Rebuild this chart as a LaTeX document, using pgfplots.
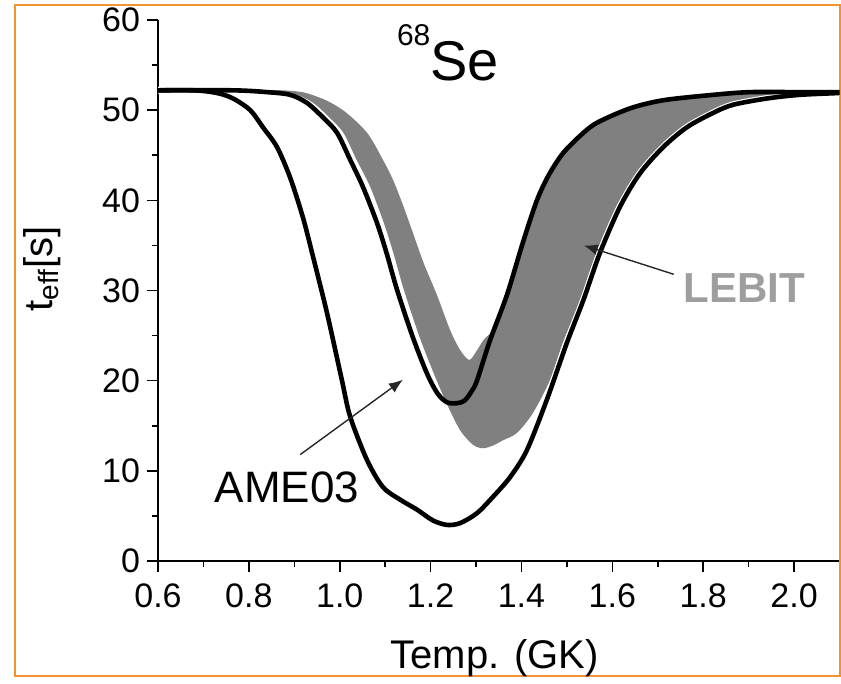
\documentclass[border=0pt]{standalone}
\usepackage{fontspec}
\setmainfont{Liberation Sans}
\usepackage{pgfplots}
\pgfplotsset{compat=1.18}
\usepgfplotslibrary{fillbetween}
\usetikzlibrary{arrows.meta}
\definecolor{frameorange}{RGB}{242,146,48}
\definecolor{bandgray}{RGB}{128,128,128}
\definecolor{lebitgray}{RGB}{158,158,158}

\begin{document}
\begin{tikzpicture}
\path (0,0) rectangle (420.5pt,339pt);
\draw[frameorange, line width=1pt] (7.5pt,1pt) rectangle (420pt,336.5pt);
\begin{axis}[
  at={(79pt,58.5pt)}, anchor=south west,
  scale only axis, width=340.75pt, height=270.5pt,
  xmin=0.6, xmax=2.1, ymin=0, ymax=60,
  axis x line*=bottom, axis y line*=left,
  axis line style={line width=0.8pt, black},
  tick align=outside,
  xtick={0.6,0.8,1.0,1.2,1.4,1.6,1.8,2.0},
  ytick={0,10,20,30,40,50,60},
  minor x tick num=1, minor y tick num=1,
  major tick length=5.5pt, minor tick length=3pt,
  every tick/.style={black, line width=0.8pt},
  /pgf/number format/assume math mode=true,
  xticklabel style={/pgf/number format/fixed, /pgf/number format/fixed zerofill, /pgf/number format/precision=1, yshift=-2.5pt},
  ticklabel style={font=\fontsize{17}{20}\selectfont},
  xlabel={Temp. (GK)},
  ylabel={t\textsubscript{eff}[s]},
  label style={font=\fontsize{20}{24}\selectfont},
  x label style={at={(axis description cs:0.494,-0.198)}, anchor=base},
  y label style={at={(axis description cs:-0.170,0.54)}, anchor=center},
  clip=true,
]
% LEBIT band boundaries
\addplot[draw=none, smooth, name path=hi] table {
x y
0.600 52.2
0.875 52.2
0.950 51.5
1.007 50.0
1.060 47.5
1.095 44.5
1.117 42.3
1.139 39.5
1.161 36.4
1.185 33.0
1.214 29.5
1.243 25.6
1.265 23.4
1.285 22.3
1.300 23.2
1.318 24.6
1.345 26.0
1.368 29.2
1.403 35.0
1.434 39.8
1.491 45.0
1.566 48.5
1.639 50.1
1.712 51.0
1.822 51.7
1.903 52.0
2.100 52.0
};
\addplot[draw=none, smooth, name path=lo] table {
x y
0.600 52.2
0.780 52.2
0.855 52.0
0.905 51.7
0.942 50.8
0.977 49.2
1.008 47.5
1.037 44.5
1.067 41.5
1.097 37.5
1.119 34.0
1.141 30.1
1.176 24.8
1.207 20.8
1.236 17.4
1.265 14.5
1.293 12.9
1.315 12.5
1.337 12.8
1.360 13.4
1.390 14.2
1.425 16.4
1.463 20.1
1.491 24.2
1.529 28.9
1.565 34.2
1.609 39.3
1.653 43.0
1.704 45.9
1.756 48.1
1.814 49.7
1.860 50.6
1.935 51.3
2.000 51.7
2.100 51.9
};
\addplot[bandgray] fill between[of=hi and lo];
% AME03 lower limit (white edge, then black line)
\addplot[white, line width=3.4pt, smooth] table {
x y
0.600 52.2
0.680 52.2
0.730 51.9
0.765 51.3
0.803 50.0
0.831 48.1
0.862 45.9
0.891 42.5
0.919 38.1
0.941 33.8
0.972 27.5
1.005 20.0
1.023 16.0
1.060 11.2
1.095 8.2
1.133 6.8
1.170 5.7
1.205 4.5
1.236 4.0
1.265 4.2
1.302 5.3
1.337 7.1
1.375 9.3
1.412 12.3
1.456 17.9
1.500 24.2
1.536 28.9
1.573 34.2
1.617 39.3
1.661 43.0
1.712 45.9
1.764 48.1
1.822 49.7
1.866 50.6
1.941 51.3
2.013 51.7
2.100 51.9
};
\addplot[black, line width=2.3pt, smooth] table {
x y
0.600 52.2
0.680 52.2
0.730 51.9
0.765 51.3
0.803 50.0
0.831 48.1
0.862 45.9
0.891 42.5
0.919 38.1
0.941 33.8
0.972 27.5
1.005 20.0
1.023 16.0
1.060 11.2
1.095 8.2
1.133 6.8
1.170 5.7
1.205 4.5
1.236 4.0
1.265 4.2
1.302 5.3
1.337 7.1
1.375 9.3
1.412 12.3
1.456 17.9
1.500 24.2
1.536 28.9
1.573 34.2
1.617 39.3
1.661 43.0
1.712 45.9
1.764 48.1
1.822 49.7
1.866 50.6
1.941 51.3
2.013 51.7
2.100 51.9
};
% AME03 upper limit
\addplot[black, line width=2.3pt, smooth] table {
x y
0.600 52.2
0.765 52.2
0.840 52.0
0.891 51.7
0.928 50.8
0.963 49.2
0.994 47.5
1.023 44.5
1.051 41.5
1.082 37.5
1.104 34.0
1.126 30.1
1.161 24.8
1.192 20.8
1.215 18.6
1.236 17.6
1.258 17.5
1.275 17.8
1.290 18.8
1.302 20.0
1.331 24.5
1.368 29.5
1.403 35.3
1.434 40.0
1.460 42.8
1.491 45.2
1.530 47.2
1.566 48.6
1.639 50.2
1.712 51.1
1.822 51.7
1.903 52.0
2.013 52.0
2.100 52.0
};
% title and annotations
\node[anchor=base, font=\fontsize{28}{32}\selectfont, inner sep=0pt] at (axis description cs:0.4255,0.889)
  {\raisebox{17.5pt}{\fontsize{15}{18}\selectfont 68}Se};
\node[font=\fontsize{21}{25}\selectfont\bfseries, text=lebitgray] at (axis cs:1.890,30.3) {LEBIT};
\draw[line width=0.7pt, black!85, -{Latex[length=7pt,width=5.5pt]}] (axis cs:1.735,31.8) -- (axis cs:1.537,35.0);
\node[font=\fontsize{22}{26}\selectfont] at (axis cs:0.884,8.2) {AME03};
\draw[line width=0.7pt, black!85, -{Latex[length=7pt,width=5.5pt]}] (axis cs:0.913,11.8) -- (axis cs:1.139,20.1);
\end{axis}
\end{tikzpicture}
\end{document}
